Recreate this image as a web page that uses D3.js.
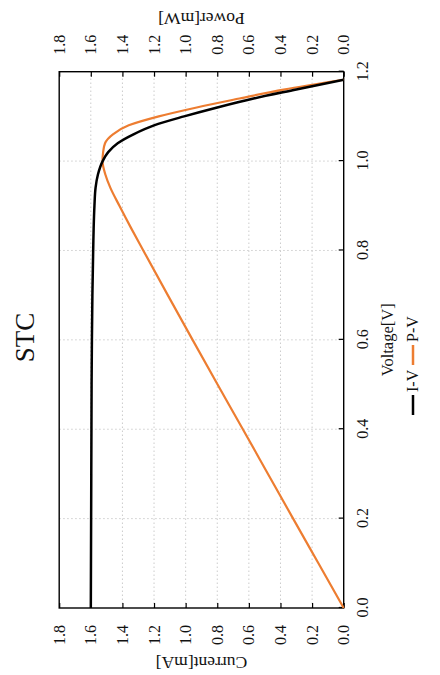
<!doctype html>
<html>
<head>
<meta charset="UTF-8">
<title>STC</title>
<script src="https://d3js.org/d3.v7.min.js"></script>
<style>
body{margin:0;background:#fff;}
text{font-family:"Liberation Serif","Times New Roman",serif;fill:#111;}
</style>
</head>
<body>
<svg id="chart" width="440" height="675"></svg>
<script>
// values
var voltage = [0, 0.1, 0.2, 0.3, 0.4, 0.5, 0.6, 0.7, 0.8, 0.85, 0.9, 0.94, 0.97, 1.0, 1.02, 1.04, 1.06, 1.08, 1.10, 1.12, 1.14, 1.16, 1.182];
var current = [1.600, 1.599, 1.598, 1.597, 1.596, 1.595, 1.593, 1.590, 1.585, 1.582, 1.577, 1.570, 1.555, 1.525, 1.49, 1.43, 1.33, 1.20, 1.01, 0.80, 0.57, 0.30, 0];
var power = [0, 0.160, 0.320, 0.479, 0.638, 0.798, 0.956, 1.113, 1.268, 1.345, 1.419, 1.476, 1.508, 1.526, 1.522, 1.51, 1.46, 1.36, 1.17, 0.93, 0.66, 0.38, 0];
var vTicks = [0, 0.2, 0.4, 0.6, 0.8, 1.0, 1.2];
var iTicks = [0, 0.2, 0.4, 0.6, 0.8, 1.0, 1.2, 1.4, 1.6, 1.8];
var seriesNames = ["I-V", "P-V"];
var seriesColors = ["#000000", "#ed7d31"];

// the chart is drawn upright in a 675x440 frame and turned a quarter turn
var W = 675, H = 440;
var pL = 67, pR = 603.3, pT = 59.2, pB = 343.7;

var svg = d3.select("#chart");
svg.append("rect").attr("width", 440).attr("height", 675).attr("fill", "#fff");
var g = svg.append("g").attr("transform", "translate(0," + W + ") rotate(-90)");

var x = d3.scaleLinear().domain([0, 1.2]).range([pL, pR]);
var y = d3.scaleLinear().domain([0, 1.8]).range([pB, pT]);
var y2 = d3.scaleLinear().domain([0, 1.8]).range([pB, pT]);

// grid
g.selectAll(".vgrid").data(vTicks.slice(1, -1)).enter().append("line")
    .attr("x1", d => x(d)).attr("x2", d => x(d))
    .attr("y1", pT).attr("y2", pB)
    .attr("stroke", "#cccccc").attr("stroke-width", 1).attr("stroke-dasharray", "1.5,2.5");
g.selectAll(".igrid").data(iTicks.slice(1, -1)).enter().append("line")
    .attr("x1", pL).attr("x2", pR)
    .attr("y1", d => y(d)).attr("y2", d => y(d))
    .attr("stroke", "#cccccc").attr("stroke-width", 1).attr("stroke-dasharray", "1.5,2.5");

// axes
var fmt = d3.format(".1f");
function styleAxis(sel) {
    sel.select(".domain").remove();
    sel.selectAll(".tick line").attr("stroke", "#000").attr("stroke-width", 1.2);
    sel.selectAll(".tick text").attr("font-size", 16).attr("fill", "#111")
        .attr("font-family", '"Liberation Serif", serif');
}
g.append("g").attr("transform", "translate(0," + pB + ")")
    .call(d3.axisBottom(x).tickValues(vTicks).tickFormat(fmt).tickSizeInner(-5).tickSizeOuter(0).tickPadding(13))
    .call(styleAxis);
g.append("g").attr("transform", "translate(" + pL + ",0)")
    .call(d3.axisLeft(y).tickValues(iTicks).tickFormat(fmt).tickSizeInner(-5).tickSizeOuter(0).tickPadding(17))
    .call(styleAxis);
g.append("g").attr("transform", "translate(" + pR + ",0)")
    .call(d3.axisRight(y2).tickValues(iTicks).tickFormat(fmt).tickSizeInner(-5).tickSizeOuter(0).tickPadding(17))
    .call(styleAxis);

// frame
g.append("rect").attr("x", pL).attr("y", pT)
    .attr("width", pR - pL).attr("height", pB - pT)
    .attr("fill", "none").attr("stroke", "#000").attr("stroke-width", 1.4);

// curves
var ivData = voltage.map((v, i) => ({v: v, val: current[i]}));
var pvData = voltage.map((v, i) => ({v: v, val: power[i]}));
var line1 = d3.line().x(d => x(d.v)).y(d => y(d.val)).curve(d3.curveMonotoneX);
var line2 = d3.line().x(d => x(d.v)).y(d => y2(d.val)).curve(d3.curveMonotoneX);
g.append("path").datum(pvData).attr("d", line2)
    .attr("fill", "none").attr("stroke", seriesColors[1]).attr("stroke-width", 2.2);
g.append("path").datum(ivData).attr("d", line1)
    .attr("fill", "none").attr("stroke", seriesColors[0]).attr("stroke-width", 2.5);

// titles
g.append("text").attr("x", W / 2).attr("y", 34).attr("text-anchor", "middle")
    .attr("font-size", 27).text("STC");
g.append("text").attr("x", (pL + pR) / 2).attr("y", 393).attr("text-anchor", "middle")
    .attr("font-size", 16.5).text("Voltage[V]");
g.append("text").attr("transform", "translate(18," + (pT + pB) / 2 + ") rotate(-90)")
    .attr("text-anchor", "middle").attr("font-size", 17.5).text("Current[mA]");
g.append("text").attr("transform", "translate(662," + (pT + pB) / 2 + ") rotate(-90)")
    .attr("text-anchor", "middle").attr("font-size", 17.5).text("Power[mW]");

// legend
var legend = g.selectAll(".leg").data(seriesNames).enter().append("g")
    .attr("transform", (d, i) => "translate(" + (260 + i * 50) + ",413)");
legend.append("line").attr("x1", 0).attr("x2", 20).attr("y1", 0).attr("y2", 0)
    .attr("stroke", (d, i) => seriesColors[i]).attr("stroke-width", 2.5);
legend.append("text").attr("x", 23).attr("y", 5).attr("font-size", 16).text(d => d);
</script>
</body>
</html>
